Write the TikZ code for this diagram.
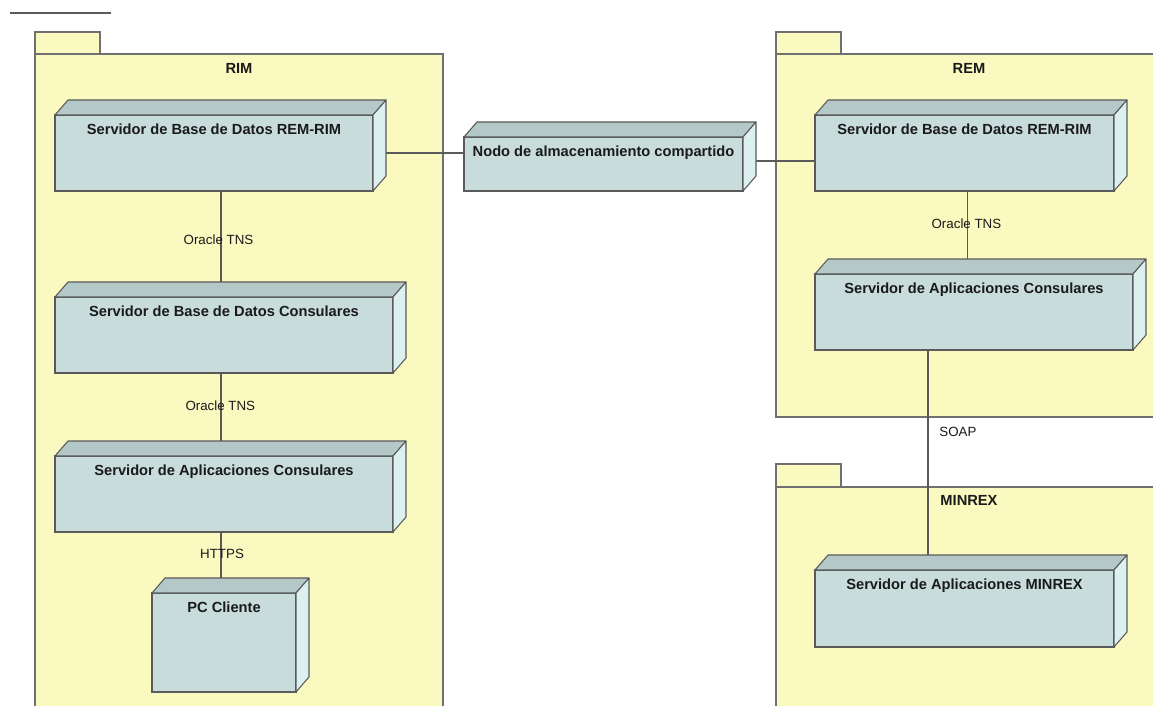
\documentclass[tikz,border=0pt]{standalone}
\usepackage{fontspec}
\setmainfont{Liberation Sans}
\usetikzlibrary{calc}
\pgfdeclarelayer{pkg}
\pgfdeclarelayer{conn}
\pgfsetlayers{pkg,conn,main}
\definecolor{pkgfill}{HTML}{FAF9C0}
\definecolor{pkgline}{HTML}{707070}
\definecolor{frontc}{HTML}{C8DCDC}
\definecolor{topc}{HTML}{B4C8C8}
\definecolor{sidec}{HTML}{DDF0F0}
\definecolor{edgec}{HTML}{5A5A5A}
\definecolor{txtc}{HTML}{1A1A1A}
\tikzset{
  udbox/.style={draw=edgec, fill=frontc, line width=0.8pt, inner sep=0pt, outer sep=0pt, rectangle},
  udface/.style={draw=edgec, line width=0.8pt, line join=round},
  udtext/.style={font=\bfseries\fontsize{11}{13}\selectfont, text=txtc, anchor=north, inner sep=0pt, yshift=-6.6pt},
  pkgbox/.style={draw=pkgline, fill=pkgfill, line width=0.8pt},
  pkgtext/.style={font=\bfseries\fontsize{11}{13}\selectfont, text=txtc, inner sep=0pt},
  conline/.style={draw=edgec, line width=0.8pt},
  conlbl/.style={font=\fontsize{10}{12}\selectfont, text=txtc, inner sep=0pt}
}
\newcommand\udnode[6]{%
  \node[udbox, minimum width={(#4-#2)*0.75pt}, minimum height={(#5-#3)*0.75pt},
        label={[udtext]north:{#6}}] (#1) at ({(#2+#4)/2},{(#3+#5)/2}) {};
  \filldraw[udface, fill=topc] (#1.north west) -- ++(13,-15) -- ([shift={(13,-15)}]#1.north east) -- (#1.north east) -- cycle;
  \filldraw[udface, fill=sidec] (#1.north east) -- ++(13,-15) -- ([shift={(13,-15)}]#1.south east) -- (#1.south east) -- cycle;
}
\begin{document}
\begin{tikzpicture}[x=0.75pt, y=-0.75pt]
\useasboundingbox (0,0) rectangle (1153,706);
% packages
\begin{pgfonlayer}{pkg}
\fill[white] (0,0) rectangle (1153,706);
\draw[edgec, line width=1.1pt] (10,13) -- (111,13);
\draw[pkgbox] (35,32) rectangle (100,54);
\draw[pkgbox] (35,54) rectangle (443,730);
\draw[pkgbox] (776,32) rectangle (841,54);
\draw[pkgbox] (776,54) rectangle (1180,417);
\draw[pkgbox] (776,464) rectangle (841,487);
\draw[pkgbox] (776,487) rectangle (1180,730);
\end{pgfonlayer}
\node[pkgtext] (rimlbl) at (239,68) {RIM};
\node[pkgtext] (remlbl) at (969,68) {REM};
\node[pkgtext] (minlbl) at (969,500) {MINREX};
% nodes
\udnode{rimdb}{55}{115}{373}{191}{Servidor de Base de Datos REM-RIM}
\udnode{rimbdc}{55}{297}{393}{373}{Servidor de Base de Datos Consulares}
\udnode{rimapp}{55}{456}{393}{532}{Servidor de Aplicaciones Consulares}
\udnode{pc}{152}{593}{296}{692}{PC Cliente}
\udnode{nodo}{464}{137}{743}{191}{Nodo de almacenamiento compartido}
\udnode{remdb}{815}{115}{1114}{191}{Servidor de Base de Datos REM-RIM}
\udnode{remapp}{815}{274}{1133}{350}{Servidor de Aplicaciones Consulares}
\udnode{minrex}{815}{570}{1114}{647}{Servidor de Aplicaciones MINREX}
% connectors
\begin{pgfonlayer}{conn}
\draw[conline] (rimdb.east) -- (rimdb.east -| nodo.west);
\draw[conline] ([shift={(0,-3)}]nodo.east) -- ([shift={(0,-3)}]nodo.east -| remdb.west);
\draw[conline] ([shift={(7,0)}]rimdb.south) -- ([shift={(7,0)}]rimdb.south |- rimbdc.north)
  node[conlbl, pos=0.46, xshift=-1.9pt] {Oracle TNS};
\draw[conline] ([shift={(-3,0)}]rimbdc.south) -- ([shift={(-3,0)}]rimbdc.south |- rimapp.north)
  node[conlbl, pos=0.40, xshift=-0.5pt] {Oracle TNS};
\draw[conline] ([shift={(-3,0)}]rimapp.south) -- ([shift={(-3,0)}]rimapp.south |- pc.north)
  node[conlbl, pos=0.36, xshift=0.8pt] {HTTPS};
\draw[conline] ([shift={(3,0)}]remdb.south) -- ([shift={(3,0)}]remdb.south |- remapp.north)
  node[conlbl, pos=0.40, xshift=-0.8pt] {Oracle TNS};
\draw[conline] ([shift={(-46,0)}]remapp.south) -- ([shift={(-46,0)}]remapp.south |- minrex.north)
  node[conlbl, pos=0.373, anchor=west, xshift=8.2pt] {SOAP};
\end{pgfonlayer}
\end{tikzpicture}
\end{document}
